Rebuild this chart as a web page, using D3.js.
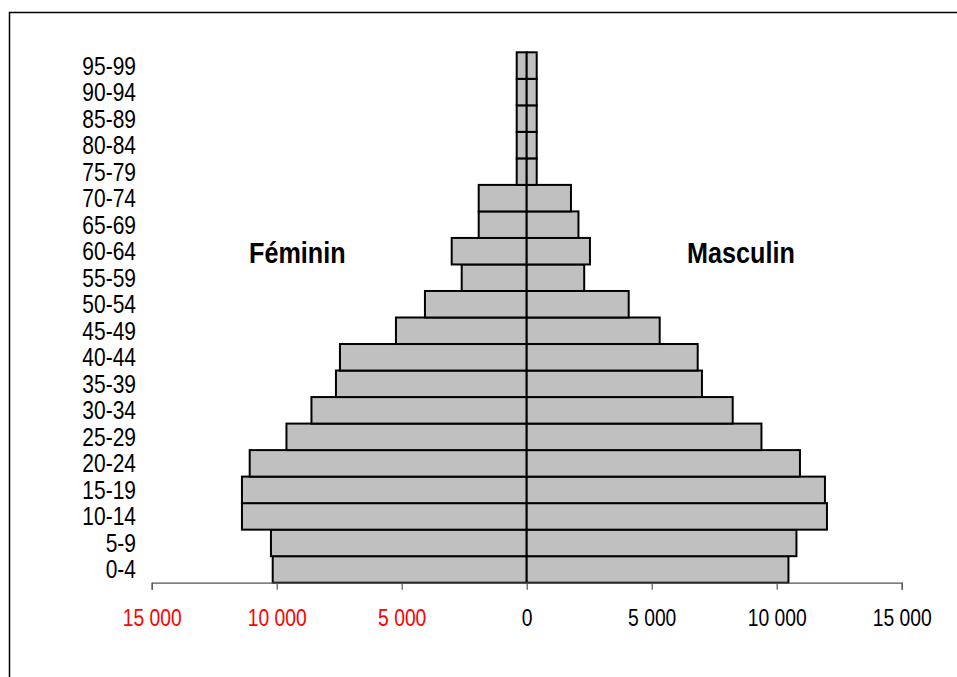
<!DOCTYPE html>
<html lang="fr">
<head>
	<meta charset="UTF-8"/>
	<title>Pyramide des âges</title>
	<script src="https://d3js.org/d3.v7.min.js"></script>
	<style>
		body { margin: 0; background: #fff; }
		text { font-family: "Liberation Sans", Arial, sans-serif; }
	</style>
</head>
<body>
	<div id="chart-container"></div>

	<script>
	var w = 957;
	var h = 677;
	var narrow = 0.84; // horizontal squeeze to mimic a narrow font

	// age groups, bottom to top
	var ageGroups = ["0-4", "5-9", "10-14", "15-19", "20-24", "25-29", "30-34", "35-39", "40-44", "45-49",
		"50-54", "55-59", "60-64", "65-69", "70-74", "75-79", "80-84", "85-89", "90-94", "95-99"];
	var feminin = [10160, 10230, 11390, 11390, 11080, 9610, 8610, 7630, 7470, 5230,
		4070, 2600, 3000, 1920, 1920, 400, 400, 400, 400, 400];
	var masculin = [10470, 10790, 12010, 11930, 10930, 9390, 8240, 7010, 6840, 5320,
		4080, 2300, 2530, 2070, 1770, 400, 400, 400, 400, 400];
	var tickValues = [-15000, -10000, -5000, 0, 5000, 10000, 15000];

	var svg = d3.select("#chart-container")
		.append("svg")
		.attr("width", w)
		.attr("height", h);

	// outer frame (runs off the right and bottom edges)
	svg.append("rect")
		.attr("x", 9.5)
		.attr("y", 12.5)
		.attr("width", w + 20)
		.attr("height", h + 20)
		.attr("fill", "none")
		.attr("stroke", "#000")
		.attr("stroke-width", 1.5);

	var xScale = d3.scaleLinear()
		.domain([-15000, 15000])
		.range([151.7, 901.7]);

	var yScale = d3.scaleBand()
		.domain(ageGroups.slice().reverse())
		.range([52.3, 582.7])
		.padding(0);

	var fmt = function (d) {
		return d3.format(",")(Math.abs(d)).replace(/,/g, " ");
	};

	// female bars (left)
	svg.selectAll("rect.fem")
		.data(feminin)
		.enter()
		.append("rect")
		.attr("class", "fem")
		.attr("x", function (d) { return xScale(-d); })
		.attr("y", function (d, i) { return yScale(ageGroups[i]); })
		.attr("width", function (d) { return xScale(0) - xScale(-d); })
		.attr("height", yScale.bandwidth())
		.attr("fill", "#c0c0c0")
		.attr("stroke", "#000")
		.attr("stroke-width", 2);

	// male bars (right)
	svg.selectAll("rect.mas")
		.data(masculin)
		.enter()
		.append("rect")
		.attr("class", "mas")
		.attr("x", xScale(0))
		.attr("y", function (d, i) { return yScale(ageGroups[i]); })
		.attr("width", function (d) { return xScale(d) - xScale(0); })
		.attr("height", yScale.bandwidth())
		.attr("fill", "#c0c0c0")
		.attr("stroke", "#000")
		.attr("stroke-width", 2);

	// x axis
	var xAxis = d3.axisBottom(xScale)
		.tickValues(tickValues)
		.tickSize(7)
		.tickPadding(20)
		.tickFormat(fmt);

	var gx = svg.append("g")
		.attr("transform", "translate(0," + 582.7 + ")")
		.call(xAxis);

	gx.select(".domain").attr("stroke", "#555").attr("stroke-width", 1.2);
	gx.selectAll(".tick line").attr("stroke", "#555").attr("stroke-width", 1.2);
	gx.selectAll(".tick text")
		.attr("font-family", null)
		.attr("font-size", "23px")
		.attr("transform", "scale(" + narrow + ",1)")
		.attr("fill", function (d) { return d < 0 ? "#ff0000" : "#000"; });

	// age labels
	svg.selectAll("text.age")
		.data(ageGroups)
		.enter()
		.append("text")
		.attr("class", "age")
		.text(function (d) { return d; })
		.attr("transform", function (d) {
			return "translate(136," + (yScale(d) + yScale.bandwidth() / 2) + ") scale(" + narrow + ",1)";
		})
		.attr("dy", "0.36em")
		.attr("text-anchor", "end")
		.attr("font-size", "25px")
		.attr("fill", "#000");

	// series labels
	svg.append("text")
		.text("Féminin")
		.attr("transform", "translate(249,263) scale(" + narrow + ",1)")
		.attr("font-size", "30px")
		.attr("font-weight", "bold");

	svg.append("text")
		.text("Masculin")
		.attr("transform", "translate(687,263) scale(" + narrow + ",1)")
		.attr("font-size", "30px")
		.attr("font-weight", "bold");
	</script>
</body>
</html>
